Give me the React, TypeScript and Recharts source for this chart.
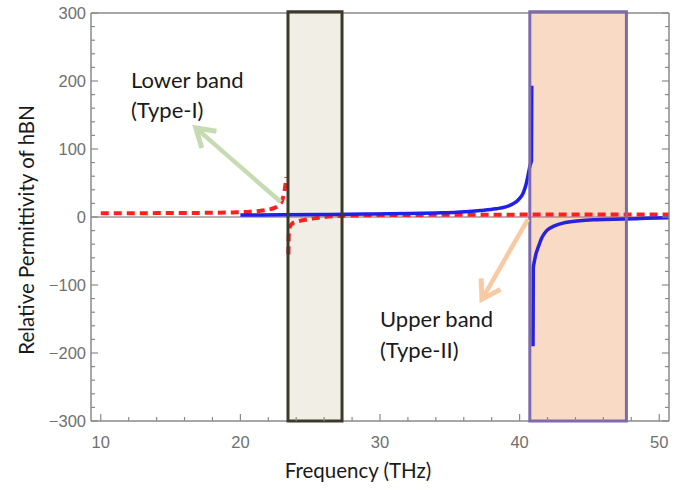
import React from 'react';
import { LineChart, Line, XAxis, YAxis, ReferenceArea, ReferenceLine, Customized } from 'recharts';

const freqTicks = [10, 12, 14, 16, 18, 20, 22, 24, 26, 28, 30, 32, 34, 36, 38, 40, 42, 44, 46, 48, 50];
const freqLabels = [10, 20, 30, 40, 50];
const epsTicks = [
  -300, -280, -260, -240, -220, -200, -180, -160, -140, -120, -100, -80, -60, -40, -20, 0,
  20, 40, 60, 80, 100, 120, 140, 160, 180, 200, 220, 240, 260, 280, 300,
];
const epsLabels = [-300, -200, -100, 0, 100, 200, 300];

// in-plane permittivity (blue), split at the upper resonance
const blueUpperF = [20, 23, 26, 29, 32, 34, 35.5, 37.2, 38.3, 39, 39.5, 39.9, 40.25, 40.45, 40.6, 40.75, 40.85, 40.87];
const blueUpperE = [3, 3.3, 3.8, 4.3, 5, 6, 7, 9.5, 12, 15, 19, 25, 35, 47, 61, 76, 83, 193];
const blueLowerF = [40.96, 40.98, 41.05, 41.15, 41.34, 41.6, 41.94, 42.5, 43.1, 44.3, 45.5, 47.5, 49, 50.7];
const blueLowerE = [-190, -75, -66, -56, -44, -30, -20, -13, -9, -5.5, -4, -3, -2, -1.2];

// out-of-plane permittivity (red dashed), split at the lower resonance
const redUpperF = [10, 12, 14, 16, 18, 19.5, 20.5, 21.3, 21.9, 22.4, 22.8, 23.0, 23.15, 23.25, 23.3];
const redUpperE = [5.5, 5.6, 5.7, 5.9, 6.2, 6.7, 7.5, 8.8, 10.5, 13, 18, 25, 37, 51, 59];
const redLowerF = [23.44, 23.47, 23.55, 23.7, 24.0, 24.4, 24.8, 25.3, 26, 27, 29, 32, 36, 40, 45, 50.7];
const redLowerE = [-55, -25, -14, -10, -7, -5, -3.5, -2, 0, 1.5, 2.5, 3, 3.3, 3.5, 3.6, 3.7];

const lowerBand = [23.41, 27.28];
const upperBand = [40.73, 47.65];

const greenArrow = [{ x: 22.9, y: 22 }, { x: 16.8, y: 131 }];
const peachArrow = [{ x: 40.6, y: -3 }, { x: 37.3, y: -121 }];

const zip = (fs: number[], es: number[]) => fs.map((f, i) => ({ f, e: es[i] }));

const frame = '#8a8a8a';
const tickFont = { fontSize: 16.5, fontFamily: 'Liberation Sans', fill: '#707070' };
const fmt = (v: number) => (v < 0 ? '\u2212' + Math.abs(v) : String(v));

const BottomTick = (p: any) => {
  const major = freqLabels.includes(p.payload.value);
  return (
    <g>
      <line x1={p.x} x2={p.x} y1={p.y} y2={p.y - (major ? 7 : 4)} stroke={frame} strokeWidth={1.2} />
      {major && (
        <text x={p.x} y={p.y + 27} textAnchor="middle" {...tickFont}>
          {p.payload.value}
        </text>
      )}
    </g>
  );
};

const TopTick = (p: any) => {
  const major = freqLabels.includes(p.payload.value);
  return <line x1={p.x} x2={p.x} y1={p.y} y2={p.y + (major ? 7 : 4)} stroke={frame} strokeWidth={1.2} />;
};

const LeftTick = (p: any) => {
  const major = epsLabels.includes(p.payload.value);
  return (
    <g>
      <line x1={p.x} x2={p.x + (major ? 7 : 4)} y1={p.y} y2={p.y} stroke={frame} strokeWidth={1.2} />
      {major && (
        <text x={p.x - 5} y={p.y + 6} textAnchor="end" {...tickFont}>
          {fmt(p.payload.value)}
        </text>
      )}
    </g>
  );
};

const RightTick = (p: any) => {
  const major = epsLabels.includes(p.payload.value);
  return <line x1={p.x} x2={p.x - (major ? 7 : 4)} y1={p.y} y2={p.y} stroke={frame} strokeWidth={1.2} />;
};

const arrowShape = (color: string) => (p: any) => {
  const { x1, y1, x2, y2 } = p;
  const back = Math.atan2(y1 - y2, x1 - x2);
  const len = 21;
  const spread = 0.56;
  const ax = x2 + len * Math.cos(back + spread);
  const ay = y2 + len * Math.sin(back + spread);
  const bx = x2 + len * Math.cos(back - spread);
  const by = y2 + len * Math.sin(back - spread);
  return (
    <g>
      <line x1={x1} y1={y1} x2={x2} y2={y2} stroke={color} strokeWidth={4.5} />
      <polyline points={`${ax},${ay} ${x2},${y2} ${bx},${by}`} fill="none" stroke={color} strokeWidth={5} />
    </g>
  );
};

const Notes = () => (
  <g fontFamily="Lato" fill="#1a1a1a">
    <text x={131} y={88} fontSize={22}>Lower band</text>
    <text x={131} y={118} fontSize={22}>(Type-I)</text>
    <text x={380} y={327} fontSize={22}>Upper band</text>
    <text x={380} y={358} fontSize={22}>(Type-II)</text>
    <text transform="translate(34,230) rotate(-90)" textAnchor="middle" fontSize={20.5}>
      Relative Permittivity of hBN
    </text>
    <text x={358} y={478} textAnchor="middle" fontSize={20.5}>Frequency (THz)</text>
  </g>
);

export default function App() {
  return (
    <div style={{ position: 'absolute', left: 0, top: 0, background: '#fff' }}>
      <LineChart width={680} height={490} margin={{ top: 8, right: 6, bottom: 29, left: 31 }}>
        <XAxis
          xAxisId={0}
          type="number"
          dataKey="f"
          domain={[9.3, 50.7]}
          allowDataOverflow
          ticks={freqTicks}
          interval={0}
          height={40}
          tickSize={0}
          tickMargin={0}
          tickLine={false}
          axisLine={{ stroke: frame, strokeWidth: 1.5 }}
          tick={BottomTick}
        />
        <XAxis
          xAxisId="top"
          orientation="top"
          type="number"
          domain={[9.3, 50.7]}
          allowDataOverflow
          ticks={freqTicks}
          interval={0}
          height={5}
          tickSize={0}
          tickMargin={0}
          tickLine={false}
          axisLine={{ stroke: frame, strokeWidth: 1.5 }}
          tick={TopTick}
        />
        <YAxis
          yAxisId={0}
          type="number"
          domain={[-300, 300]}
          allowDataOverflow
          ticks={epsTicks}
          interval={0}
          width={60}
          tickSize={0}
          tickMargin={0}
          tickLine={false}
          axisLine={{ stroke: frame, strokeWidth: 1.5 }}
          tick={LeftTick}
        />
        <YAxis
          yAxisId="right"
          orientation="right"
          type="number"
          domain={[-300, 300]}
          allowDataOverflow
          ticks={epsTicks}
          interval={0}
          width={5}
          tickSize={0}
          tickMargin={0}
          tickLine={false}
          axisLine={{ stroke: frame, strokeWidth: 1.5 }}
          tick={RightTick}
        />

        <ReferenceArea x1={lowerBand[0]} x2={lowerBand[1]} y1={-300} y2={302} ifOverflow="visible" fill="#f1efe5" fillOpacity={1} stroke="none" zIndex={10} />
        <ReferenceArea x1={upperBand[0]} x2={upperBand[1]} y1={-300} y2={302} ifOverflow="visible" fill="#f9dac5" fillOpacity={1} stroke="none" zIndex={10} />
        <ReferenceLine y={0} stroke="#999" strokeWidth={1.5} zIndex={20} />

        <Line data={zip(redUpperF, redUpperE)} dataKey="e" type="monotoneX" stroke="#ff1f1f" strokeWidth={4} strokeDasharray="8 5" dot={false} activeDot={false} isAnimationActive={false} zIndex={400} />
        <Line data={zip(redLowerF, redLowerE)} dataKey="e" type="monotoneX" stroke="#ff1f1f" strokeWidth={4} strokeDasharray="8 5" dot={false} activeDot={false} isAnimationActive={false} zIndex={400} />
        <Line data={zip(blueUpperF, blueUpperE)} dataKey="e" type="monotoneX" stroke="#2020e6" strokeWidth={3.5} dot={false} activeDot={false} isAnimationActive={false} zIndex={410} />
        <Line data={zip(blueLowerF, blueLowerE)} dataKey="e" type="monotoneX" stroke="#2a22d8" strokeWidth={3.5} dot={false} activeDot={false} isAnimationActive={false} zIndex={410} />

        <ReferenceArea x1={lowerBand[0]} x2={lowerBand[1]} y1={-300} y2={302} ifOverflow="visible" fill="none" stroke="#3c3a2a" strokeWidth={3} zIndex={500} />
        <ReferenceArea x1={upperBand[0]} x2={upperBand[1]} y1={-300} y2={302} ifOverflow="visible" fill="none" stroke="#7d6aad" strokeWidth={3} zIndex={500} />

        <ReferenceLine segment={greenArrow} ifOverflow="visible" shape={arrowShape('#c7dbb3')} zIndex={600} />
        <ReferenceLine segment={peachArrow} ifOverflow="visible" shape={arrowShape('#f9c9a3')} zIndex={600} />

        <Customized component={Notes} />
      </LineChart>
    </div>
  );
}
